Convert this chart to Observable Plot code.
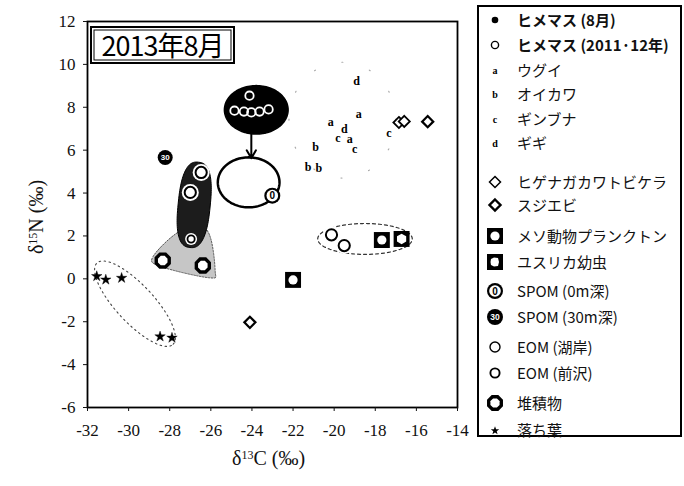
<!DOCTYPE html>
<html><head><meta charset="utf-8">
<script src="https://cdn.jsdelivr.net/npm/d3@7"></script>
<script src="https://cdn.jsdelivr.net/npm/@observablehq/plot@0.6"></script>
<style>
body{margin:0;background:#fff;}
#wrap{position:relative;width:684px;height:486px;overflow:hidden;background:#fff;}
#wrap svg.plot{position:absolute;left:0;top:0;}
.ov{position:absolute;white-space:nowrap;}
#title{left:90px;top:26px;width:145px;height:38px;box-sizing:border-box;border:2.5px solid #000;box-shadow:inset 0 0 0 1.5px #fff, inset 0 0 0 2.5px #000;font-family:"Noto Sans CJK JP",sans-serif;font-size:27px;line-height:33px;text-align:center;letter-spacing:-1px;color:#000;}
.axl{font-family:"Liberation Serif",serif;font-size:20px;color:#111;}
.axl sup{font-size:12px;vertical-align:6px;}
#legend{left:477px;top:5px;width:205px;height:432px;box-sizing:border-box;border:2px solid #000;}
.lrow{position:absolute;font-family:"Noto Sans CJK JP",sans-serif;font-size:15px;color:#111;}
</style></head><body><div id="wrap"></div>
<script>
// ---- data ----
const xTicks = [-32,-30,-28,-26,-24,-22,-20,-18,-16,-14];
const yTicks = [-6,-4,-2,0,2,4,6,8,10,12];

// ヒメマス (2011-12年) inside the August cluster
const himeOldX = [-24.85,-24.39,-24.03,-23.63,-23.19,-24.12];
const himeOldY = [7.84,7.80,7.76,7.80,7.90,8.54];

// small fishes a-d
const fishLabel = ["d","a","a","d","c","a","c","c","b","b","b"];
const fishX = [-18.91,-18.80,-20.17,-19.50,-19.82,-19.24,-19.00,-17.34,-20.90,-21.27,-20.75];
const fishY = [9.24,7.69,7.29,7.00,6.55,6.50,6.06,6.78,6.13,5.23,5.17];

// ヒゲナガカワトビケラ, スジエビ
const caddisX = [-16.85,-16.59];
const caddisY = [7.29,7.34];
const shrimpX = [-15.45,-24.10];
const shrimpY = [7.33,-2.03];

// メソ動物プランクトン, ユスリカ幼虫
const zooX = [-17.68,-22.00];
const zooY = [1.81,-0.05];
const chiroX = [-16.72];
const chiroY = [1.86];

// SPOM
const spom0X = [-23.01], spom0Y = [3.88];
const spom30X = [-28.22], spom30Y = [5.66];

// EOM
const eomMaeX = [-26.47,-27.00,-20.13,-19.51];
const eomMaeY = [4.96,4.03,2.05,1.55];
const eomShoreX = [-26.96];
const eomShoreY = [1.86];

// 堆積物
const sedX = [-28.34,-26.39];
const sedY = [0.85,0.62];

// 落ち葉
const leafX = [-31.55,-31.11,-30.34,-28.47,-27.89];
const leafY = [0.12,-0.04,0.04,-2.69,-2.75];

// group outlines: [cx, cy, rx, ry, angle(deg), exponent]
const hullAug = [-23.79,7.88,1.55,1.13,0,2];
const hullTarget = [-24.16,4.50,1.50,1.165,0,2];
const hullEom = [-26.81,3.45,0.78,2.0,-6,2.6];
const hullLeaf = [-29.69,-1.16,2.65,0.9,-45.5,2];
const hullPlank = [-18.50,1.86,2.30,0.72,0,2];
const hullFish = [-19.6,7.4,2.6,2.7,0,2];
const sedHullX = [-27.45,-26.18,-25.79,-26.08,-28.42,-28.81];
const sedHullY = [2.25,2.25,0.38,0.05,0.57,1.04];

// arrow
const arrowX1 = [-24.03], arrowY1 = [6.91], arrowX2 = [-24.03], arrowY2 = [5.62];

// ---- helpers ----
const pts = (X, Y) => X.map((x, i) => ({x, y: Y[i]}));
function outline([cx, cy, rx, ry, ang, n]) {
  const a = ang * Math.PI / 180, out = [];
  for (let i = 0; i < 120; i++) {
    const t = 2 * Math.PI * i / 120, c = Math.cos(t), s = Math.sin(t);
    const x = rx * Math.sign(c) * Math.pow(Math.abs(c), 2 / n);
    const y = ry * Math.sign(s) * Math.pow(Math.abs(s), 2 / n);
    out.push({x: cx + x * Math.cos(a) - y * Math.sin(a), y: cy + x * Math.sin(a) + y * Math.cos(a)});
  }
  return out;
}
const octagon = {draw(ctx, size) {
  const r = Math.sqrt(size / Math.PI);
  for (let i = 0; i < 8; i++) {
    const t = (i + 0.5) * Math.PI / 4;
    const px = r * Math.cos(t), py = r * Math.sin(t);
    if (i === 0) ctx.moveTo(px, py); else ctx.lineTo(px, py);
  }
  ctx.closePath();
}};

const fish = fishLabel.map((t, i) => ({t, x: fishX[i], y: fishY[i]}));
const arrows = arrowX1.map((x1, i) => ({x1, y1: arrowY1[i], x2: arrowX2[i], y2: arrowY2[i]}));

const chart = Plot.plot({
  width: 684, height: 486,
  marginLeft: 87, marginRight: 227, marginTop: 21, marginBottom: 79,
  x: {domain: [-32, -14]},
  y: {domain: [-6, 12]},
  style: {fontFamily: "Liberation Serif, serif", fontSize: "17px", color: "#111", background: "transparent"},
  marks: [
    Plot.line(outline(hullFish), {x: "x", y: "y", curve: "linear-closed", stroke: "#aaa", strokeWidth: 1.2, strokeDasharray: "1,28"}),
    Plot.line(pts(sedHullX, sedHullY), {x: "x", y: "y", curve: "cardinal-closed", fill: "#c6c6c6", stroke: "#555", strokeWidth: 1, strokeDasharray: "1.5,1.5"}),
    Plot.line(outline(hullEom), {x: "x", y: "y", curve: "linear-closed", fill: "#1c1c1c", stroke: "#000", strokeWidth: 1}),
    Plot.line(outline(hullAug), {x: "x", y: "y", curve: "linear-closed", fill: "#000", stroke: "#000"}),
    Plot.line(outline(hullTarget), {x: "x", y: "y", curve: "linear-closed", fill: "none", stroke: "#000", strokeWidth: 2.5}),
    Plot.line(outline(hullLeaf), {x: "x", y: "y", curve: "linear-closed", fill: "none", stroke: "#444", strokeWidth: 1.1, strokeDasharray: "1.5,3.5"}),
    Plot.line(outline(hullPlank), {x: "x", y: "y", curve: "linear-closed", fill: "none", stroke: "#333", strokeWidth: 1.2, strokeDasharray: "3,3"}),
    Plot.arrow(arrows, {x1: "x1", y1: "y1", x2: "x2", y2: "y2", stroke: "#000", strokeWidth: 2, headLength: 9}),
    // ヒメマス 2011-12 (white rings on black)
    Plot.dot(pts(himeOldX, himeOldY), {x: "x", y: "y", r: 4.2, stroke: "#fff", strokeWidth: 1.8, fill: "none"}),
    // fishes
    Plot.text(fish, {x: "x", y: "y", text: "t", fontFamily: "Liberation Serif, serif", fontWeight: "bold", fontSize: 12, fill: "#000"}),
    // caddisfly & shrimp
    Plot.dot(pts(caddisX, caddisY), {x: "x", y: "y", symbol: "diamond2", r: 5, stroke: "#000", strokeWidth: 1.8, fill: "#fff"}),
    Plot.dot(pts(shrimpX, shrimpY), {x: "x", y: "y", symbol: "diamond2", r: 5, stroke: "#000", strokeWidth: 2.2, fill: "#fff"}),
    // zooplankton & chironomid
    Plot.dot(pts(zooX, zooY), {x: "x", y: "y", symbol: "square", r: 9, fill: "#000"}),
    Plot.dot(pts(zooX, zooY), {x: "x", y: "y", r: 4.6, fill: "#fff"}),
    Plot.dot(pts(chiroX, chiroY), {x: "x", y: "y", symbol: "square", r: 9, fill: "#000"}),
    Plot.dot(pts(chiroX, chiroY), {x: "x", y: "y", symbol: "hexagon", r: 4.6, fill: "#fff"}),
    // SPOM
    Plot.dot(pts(spom0X, spom0Y), {x: "x", y: "y", r: 8, fill: "#000"}),
    Plot.dot(pts(spom0X, spom0Y), {x: "x", y: "y", r: 5.8, fill: "#fff"}),
    Plot.text(pts(spom0X, spom0Y), {x: "x", y: "y", text: () => "0", fontFamily: "Liberation Sans, sans-serif", fontWeight: "bold", fontSize: 10, fill: "#000"}),
    Plot.dot(pts(spom30X, spom30Y), {x: "x", y: "y", r: 7.5, fill: "#000"}),
    Plot.text(pts(spom30X, spom30Y), {x: "x", y: "y", text: () => "30", fontFamily: "Liberation Sans Narrow, Liberation Sans, sans-serif", fontWeight: "bold", fontSize: 8, fill: "#fff"}),
    // EOM
    Plot.dot(pts(eomMaeX, eomMaeY), {x: "x", y: "y", r: 8.5, fill: "#fff"}),
    Plot.dot(pts(eomMaeX, eomMaeY), {x: "x", y: "y", r: 5.6, stroke: "#000", strokeWidth: 2, fill: "#fff"}),
    Plot.dot(pts(eomShoreX, eomShoreY), {x: "x", y: "y", r: 6, fill: "#fff"}),
    Plot.dot(pts(eomShoreX, eomShoreY), {x: "x", y: "y", r: 3.6, stroke: "#000", strokeWidth: 1.8, fill: "#fff"}),
    // sediment
    Plot.dot(pts(sedX, sedY), {x: "x", y: "y", symbol: octagon, r: 7, stroke: "#000", strokeWidth: 3.4, fill: "#fff"}),
    // leaf litter
    Plot.dot(pts(leafX, leafY), {x: "x", y: "y", symbol: "star", r: 3.3, fill: "#000", stroke: "#000", strokeWidth: 0.4}),
    Plot.frame({stroke: "#000", strokeWidth: 1.8}),
    Plot.axisX({ticks: xTicks, tickFormat: d => String(d), tickSize: 4, tickPadding: 12, label: null, fontSize: 17}),
    Plot.axisY({ticks: yTicks, tickFormat: d => String(d), tickSize: 4, tickPadding: 8, label: null, fontSize: 17})
  ]
});
chart.classList.add("plot");
const wrap = document.getElementById("wrap");
wrap.appendChild(chart);

function ov(html, cls, style) {
  const d = document.createElement("div");
  d.className = "ov " + (cls || "");
  if (style) d.setAttribute("style", style);
  d.innerHTML = html;
  wrap.appendChild(d);
  return d;
}
ov("2013年8月", "", "").id = "title";
ov("δ<sup>13</sup>C (‰)", "axl", "left:232px;top:447px;");
ov("δ<sup>15</sup>N (‰)", "axl", "left:36px;top:217px;transform:translate(-50%,-50%) rotate(-90deg);");
ov("", "", "").id = "legend";

// legend
const legendLabels = ["ヒメマス (8月)","ヒメマス (2011·12年)","ウグイ","オイカワ","ギンブナ","ギギ","ヒゲナガカワトビケラ","スジエビ","メソ動物プランクトン","ユスリカ幼虫","SPOM (0m深)","SPOM (30m深)","EOM (湖岸)","EOM (前沢)","堆積物","落ち葉"];
const legendY = [20,45,70,94,119,143,182,205,236,262,291,317,347,373,403,430];
function octPath(r) {
  let p = "";
  for (let i = 0; i < 8; i++) { const t = (i + 0.5) * Math.PI / 4; p += (i ? "L" : "M") + (12 + r * Math.cos(t)).toFixed(2) + "," + (12 + r * Math.sin(t)).toFixed(2); }
  return p + "Z";
}
const legendSym = [
  '<circle cx="12" cy="12" r="3.3" fill="#000"/>',
  '<circle cx="12" cy="12" r="3.6" fill="none" stroke="#000" stroke-width="1.4"/>',
  '<text x="12" y="15.5" text-anchor="middle" font-family="Liberation Serif" font-weight="bold" font-size="10">a</text>',
  '<text x="12" y="15.5" text-anchor="middle" font-family="Liberation Serif" font-weight="bold" font-size="10">b</text>',
  '<text x="12" y="15.5" text-anchor="middle" font-family="Liberation Serif" font-weight="bold" font-size="10">c</text>',
  '<text x="12" y="15.5" text-anchor="middle" font-family="Liberation Serif" font-weight="bold" font-size="10">d</text>',
  '<path d="M12,6.5L17.5,12L12,17.5L6.5,12Z" fill="none" stroke="#000" stroke-width="1.5"/>',
  '<path d="M12,6.5L17.5,12L12,17.5L6.5,12Z" fill="none" stroke="#000" stroke-width="2.4"/>',
  '<rect x="4" y="4" width="16" height="16" fill="#000"/><circle cx="12" cy="12" r="4.6" fill="#fff"/>',
  '<rect x="4" y="4" width="16" height="16" fill="#000"/><path d="M8,9L11,7.5L15,8L16,12L15,16L11,16.5L8,15L7.5,12Z" fill="#fff"/>',
  '<circle cx="12" cy="12" r="8" fill="#000"/><circle cx="12" cy="12" r="5.8" fill="#fff"/><text x="12" y="15.5" text-anchor="middle" font-family="Liberation Sans" font-weight="bold" font-size="10">0</text>',
  '<circle cx="12" cy="12" r="8" fill="#000"/><text x="12" y="15" text-anchor="middle" font-family="Liberation Sans Narrow, Liberation Sans" font-weight="bold" font-size="8.5" fill="#fff">30</text>',
  '<circle cx="12" cy="12" r="5" fill="none" stroke="#000" stroke-width="1.4"/>',
  '<circle cx="12" cy="12" r="4.6" fill="none" stroke="#000" stroke-width="1.9"/>',
  '<path d="' + octPath(6.8) + '" fill="#fff" stroke="#000" stroke-width="3.4"/>',
  '<path d="M12,8.2L13.1,11.2L16.2,11.3L13.7,13.2L14.6,16.2L12,14.4L9.4,16.2L10.3,13.2L7.8,11.3L10.9,11.2Z" fill="#000"/>'
];
legendLabels.forEach((lab, i) => {
  const y = legendY[i];
  ov('<svg width="24" height="24">' + legendSym[i] + '</svg>', "", "left:483px;top:" + (y - 12) + "px;");
  ov(lab, "lrow", "left:517px;top:" + (y - 11) + "px;line-height:22px;" + (i < 2 ? "font-weight:bold;" : ""));
});
</script></body></html>
